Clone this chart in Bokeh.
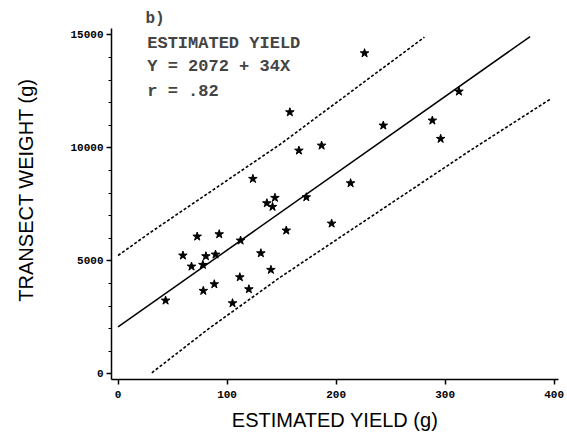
from bokeh.plotting import figure
from bokeh.models import FixedTicker, Label, ColumnDataSource
from bokeh.embed import file_html
from bokeh.resources import INLINE

# ---- data ----
est_yield = [43.6, 59.5, 67.4, 72.6, 80.6, 77.8, 92.8, 89.4, 112.4, 131.0, 140.2,
             111.7, 88.3, 78.2, 120.0, 105.0, 157.6, 165.9, 186.7, 123.7, 213.3,
             172.7, 136.5, 143.9, 141.7, 154.3, 195.9, 226.1, 312.7, 243.3, 288.3, 295.9]
transect_wt = [3243, 5235, 4748, 6075, 5204, 4823, 6177, 5279, 5898, 5336, 4602,
               4274, 3965, 3673, 3743, 3124, 11575, 9880, 10100, 8628, 8434,
               7814, 7549, 7788, 7389, 6341, 6650, 14186, 12491, 10987, 11208, 10398]

reg_x = [0, 378]
reg_y = [2072, 14924]
upper_x = [0, 30, 149, 281]
upper_y = [5234, 6265, 10164, 14894]
lower_x = [31, 83, 149, 323, 397]
lower_y = [44, 1990, 4280, 9880, 12170]

x_ticks = [0, 100, 200, 300, 400]
y_ticks = [0, 5000, 10000, 15000]
y_minor = [1000, 2000, 3000, 4000, 6000, 7000, 8000, 9000, 11000, 12000, 13000, 14000]

panel_tag = "b)"
ann_lines = ["ESTIMATED YIELD", "Y = 2072 + 34X", "r = .82"]
ann_y = [14628, 13611, 12504]
x_title = "ESTIMATED YIELD (g)"
y_title = "TRANSECT WEIGHT (g)"

p = figure(width=567, height=439, x_range=(-6, 404), y_range=(-252, 16518),
           output_backend="svg", toolbar_location=None,
           min_border_left=111, min_border_right=9, min_border_top=0, min_border_bottom=60)
p.outline_line_color = None
p.grid.visible = False
p.background_fill_color = "white"

# lines
p.line(upper_x, upper_y, line_color="black", line_width=1.6, line_dash="3 2")
p.line(lower_x, lower_y, line_color="black", line_width=1.6, line_dash="3 2")
p.line(reg_x, reg_y, line_color="black", line_width=1.5)

src = ColumnDataSource(dict(x=est_yield, y=transect_wt))
p.scatter("x", "y", source=src, marker="star", size=9, fill_color="black", line_color="black")

# axes
for ax in (p.xaxis[0], p.yaxis[0]):
    ax.axis_line_width = 1.5
    ax.axis_line_color = "black"
    ax.major_tick_line_width = 1.5
    ax.major_tick_in = 0
    ax.major_tick_out = 5
    ax.minor_tick_in = 0
    ax.minor_tick_out = 3
    ax.major_label_text_font = "Liberation Mono"
    ax.major_label_text_font_style = "bold"
    ax.major_label_text_font_size = "11px"
    ax.major_label_text_color = "black"
    ax.axis_label_text_font = "Liberation Sans"
    ax.axis_label_text_font_style = "normal"
    ax.axis_label_text_font_size = "20px"
    ax.axis_label_text_color = "black"

p.yaxis.bounds = (-252, 15279)
p.xaxis.ticker = FixedTicker(ticks=x_ticks)
p.yaxis.ticker = FixedTicker(ticks=y_ticks, minor_ticks=y_minor)
p.xaxis.major_label_standoff = 6
p.yaxis.major_label_standoff = 3
p.xaxis.axis_label = x_title
p.yaxis.axis_label = y_title
p.xaxis.axis_label_standoff = 8
p.yaxis.axis_label_standoff = 30

p.add_layout(Label(x=25.2, y=15708, text=panel_tag, text_font="Liberation Mono",
                   text_font_style="bold", text_font_size="16px", text_baseline="alphabetic"))
for t, yy in zip(ann_lines, ann_y):
    p.add_layout(Label(x=26.8, y=yy, text=t, text_font="Liberation Mono",
                       text_font_style="bold", text_font_size="17px", text_baseline="alphabetic"))

open("out.html", "w").write(file_html(p, INLINE))
